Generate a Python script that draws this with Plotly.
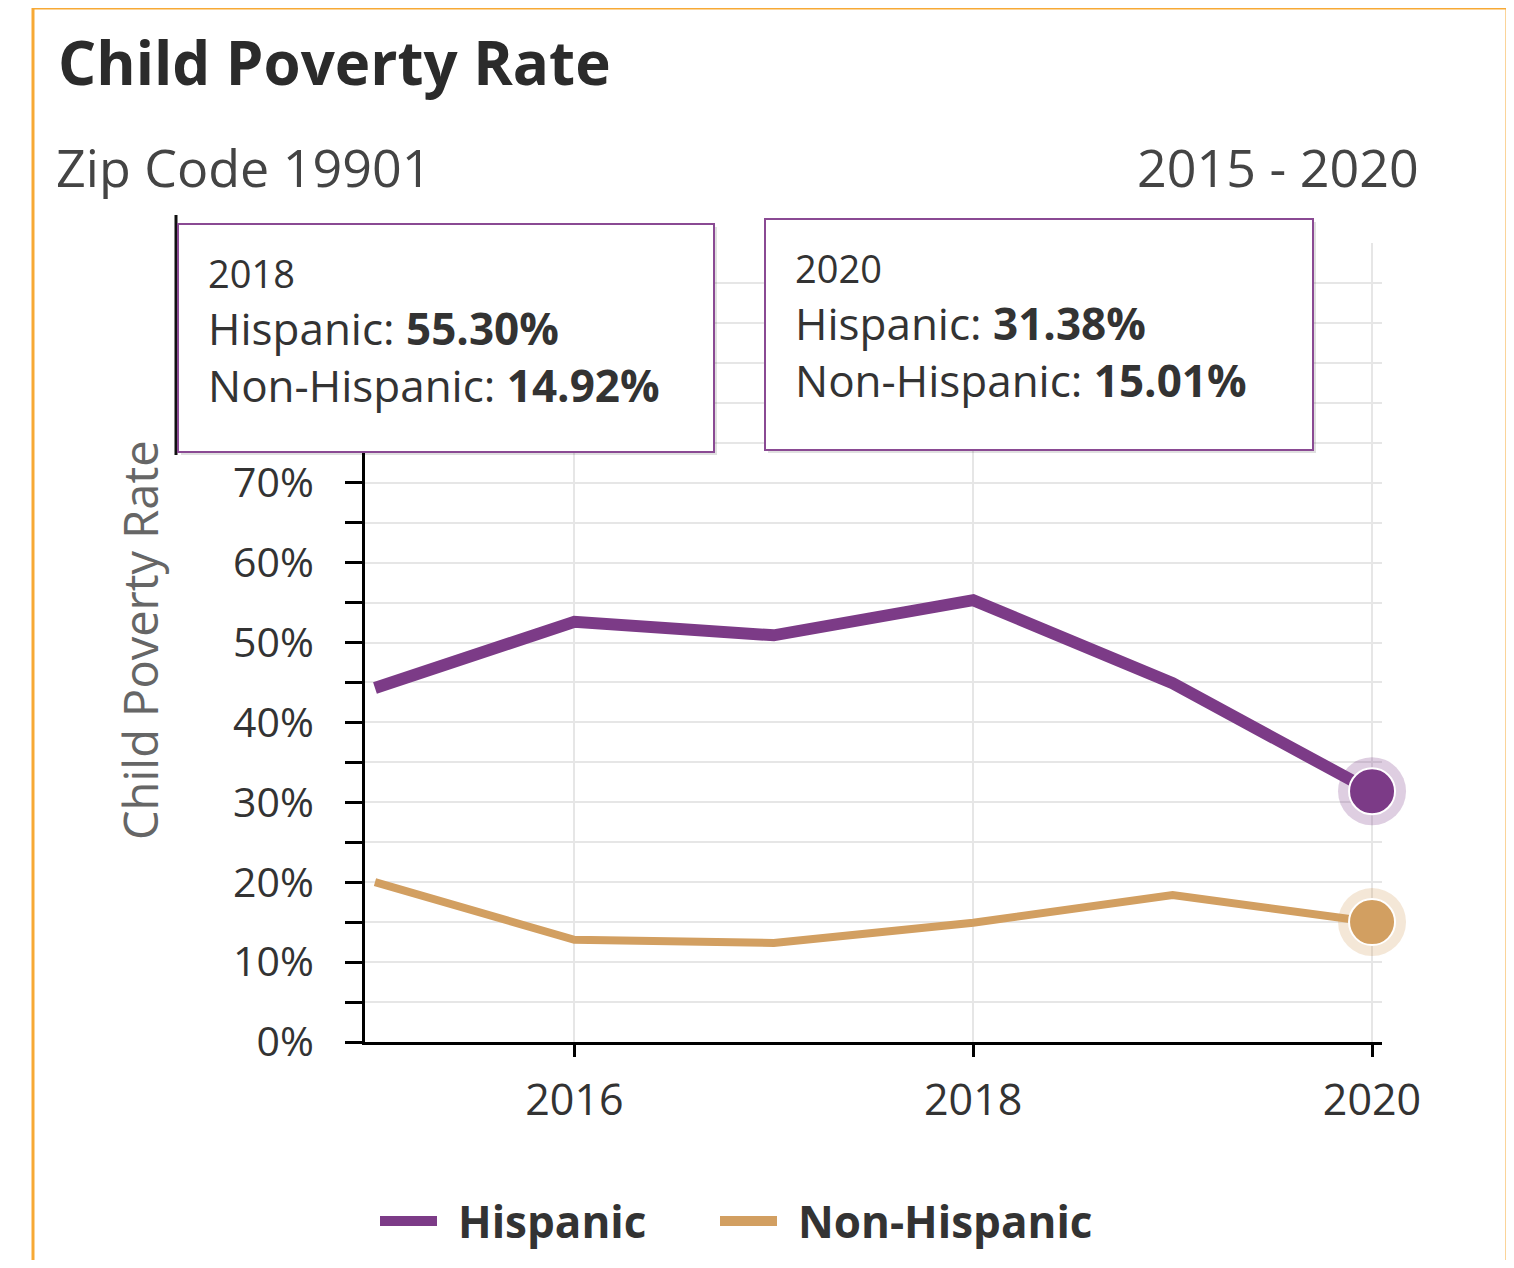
import plotly.graph_objects as go

years = [2015, 2016, 2017, 2018, 2019, 2020]
hispanic = [44.3, 52.6, 50.9, 55.30, 44.9, 31.38]
non_hispanic = [20.0, 12.8, 12.4, 14.92, 18.4, 15.01]

series_names = ["Hispanic", "Non-Hispanic"]
tick_years = [2016, 2018, 2020]
y_ticks = [0, 10, 20, 30, 40, 50, 60, 70]

purple = "#7c3b87"
tan = "#d29f61"
font = "Open Sans"

# page layout (pixels of the figure, plot area from margins)
W, H = 1498, 1252
L, R, T, B = 357, 124, 235, 218
PW, PH = W - L - R, H - T - B


def px(x):
    # figure pixel x -> paper x
    return (x - L) / PW


def py(y):
    # figure pixel y -> paper y
    return (H - B - y) / PH


fig = go.Figure()

fig.add_trace(go.Scatter(x=years, y=hispanic, mode="lines", name=series_names[0],
                         line=dict(color=purple, width=12), showlegend=False))
fig.add_trace(go.Scatter(x=years, y=non_hispanic, mode="lines", name=series_names[1],
                         line=dict(color=tan, width=8), showlegend=False))

# hovered point at the last year: halo + dot
for vals, color in [(hispanic, purple), (non_hispanic, tan)]:
    fig.add_trace(go.Scatter(x=[years[-1]], y=[vals[-1]], mode="markers", showlegend=False,
                             marker=dict(size=68, color=color, opacity=0.25, line=dict(width=0)),
                             cliponaxis=False, hoverinfo="skip"))
    fig.add_trace(go.Scatter(x=[years[-1]], y=[vals[-1]], mode="markers", showlegend=False,
                             marker=dict(size=46, color=color, line=dict(color="white", width=2)),
                             cliponaxis=False, hoverinfo="skip"))

annotations = []
shapes = []


def text(s, x, y, size, color="#333", anchor="left", **kw):
    annotations.append(dict(text=s, x=px(x), y=py(y), xref="paper", yref="paper",
                            xanchor=anchor, yanchor="middle", showarrow=False,
                            font=dict(size=size, color=color, family=font), **kw))


# titles
text("<b>Child Poverty Rate</b>", 48, 54, 60, "#2b2b2b")
text("Zip Code 19901", 46, 159, 52, "#444")
text(f"{years[0]} - {years[-1]}", 1413, 159, 52, "#444", anchor="right")
text("Child Poverty Rate", 132, 632, 47, "#666", anchor="center", textangle=-90)

# frame
shapes.append(dict(type="rect", xref="paper", yref="paper", x0=px(25), x1=px(1499),
                   y0=py(1300), y1=py(0), line=dict(color="#f7a935", width=3), layer="below"))

# ghost axis line at the left of the first tooltip
shapes.append(dict(type="line", xref="paper", yref="paper", x0=px(168), x1=px(168),
                   y0=py(207), y1=py(447), line=dict(color="#111", width=3), layer="above"))


def tooltip(i, x0, y0, x1, y1):
    # shadow + box
    shapes.append(dict(type="rect", xref="paper", yref="paper", x0=px(x0 + 3), x1=px(x1 + 3),
                       y0=py(y1 + 3), y1=py(y0 + 3), fillcolor="rgba(0,0,0,0.12)",
                       line=dict(width=0), layer="above"))
    shapes.append(dict(type="rect", xref="paper", yref="paper", x0=px(x0), x1=px(x1),
                       y0=py(y1), y1=py(y0), fillcolor="white",
                       line=dict(color="#8a4a93", width=2), layer="above"))
    body = (f"<span style='font-size:38px'>{years[i]}</span><br>"
            f"{series_names[0]}: <b>{hispanic[i]:.2f}%</b><br>"
            f"{series_names[1]}: <b>{non_hispanic[i]:.2f}%</b>")
    text(body, x0 + 28, y0 + 107, 44, align="left")


tooltip(3, 170, 216, 706, 444)
tooltip(5, 757, 211, 1305, 442)

# legend
for name, color, x0 in [(series_names[0], purple, 372), (series_names[1], tan, 712)]:
    shapes.append(dict(type="line", xref="paper", yref="paper", x0=px(x0), x1=px(x0 + 57),
                       y0=py(1213), y1=py(1213), line=dict(color=color, width=10)))
    text(f"<b>{name}</b>", x0 + 76, 1213, 44)

fig.update_layout(
    width=W,
    height=H,
    margin=dict(l=L, r=R, t=T, b=B, autoexpand=False),
    paper_bgcolor="white",
    plot_bgcolor="white",
    font=dict(family=font, color="#333"),
    showlegend=False,
    annotations=annotations,
    shapes=shapes,
    xaxis=dict(range=[2014.95, 2020.05], tickvals=tick_years, showgrid=True,
               gridcolor="#e6e6e6", gridwidth=2, showline=True, linecolor="black", linewidth=3,
               ticks="outside", ticklen=12, tickwidth=3, tickcolor="black",
               tickfont=dict(size=43, color="#333"), ticklabelstandoff=6, zeroline=False),
    yaxis=dict(range=[0, 100], tickvals=y_ticks, ticktext=[f"{v}%" for v in y_ticks],
               showgrid=True, gridcolor="#e6e6e6", gridwidth=2, showline=True,
               linecolor="black", linewidth=3, ticks="outside", ticklen=17, tickwidth=3,
               tickcolor="black", tickfont=dict(size=41, color="#333"),
               ticklabelstandoff=23, zeroline=False,
               minor=dict(dtick=5, ticks="outside", ticklen=17, tickwidth=3, tickcolor="black",
                          showgrid=True, gridcolor="#e6e6e6", gridwidth=2)),
)

fig.write_html("out.html")
